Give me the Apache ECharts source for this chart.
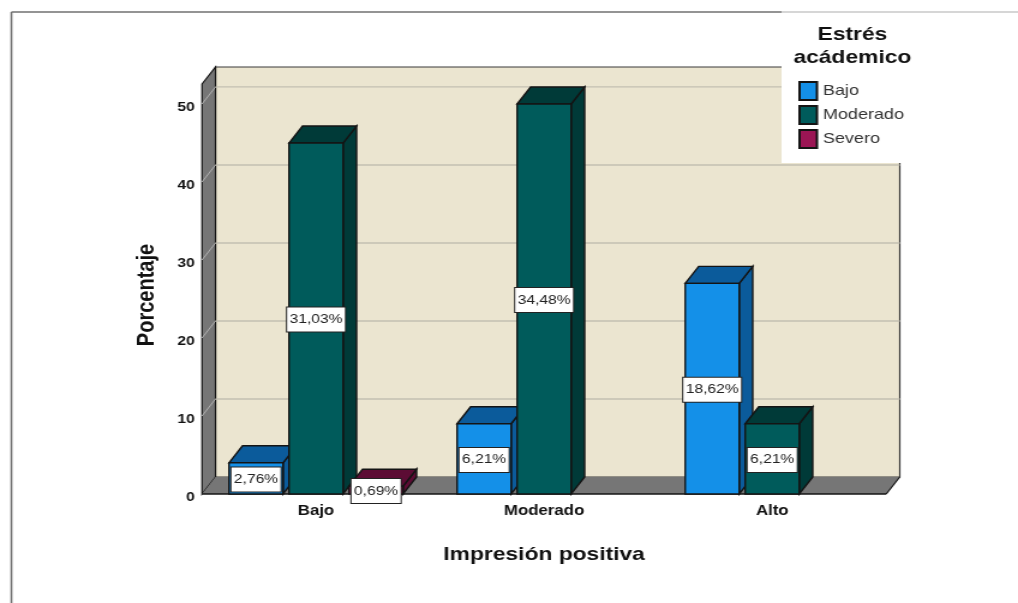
<!DOCTYPE html>
<html>
<head>
<meta charset="utf-8">
<style>
  html, body { margin: 0; padding: 0; background: #fff; overflow: hidden; }
  /* The plot is laid out on a narrower canvas and widened to the full page. */
  #chart { width: 848px; height: 603px; transform-origin: 0 0; transform: scaleX(1.2005); }
</style>
<script src="https://cdn.jsdelivr.net/npm/echarts@6/dist/echarts.min.js"></script>
</head>
<body>
<div id="chart"></div>
<script>
const categories = ['Bajo', 'Moderado', 'Alto'];
const seriesNames = ['Bajo', 'Moderado', 'Severo'];
const bajoValues = [2.76, 6.21, 18.62];
const moderadoValues = [31.03, 34.48, 6.21];
const severoValues = [0.69, null, null];
const tickLabels = ['0', '10', '20', '30', '40', '50'];
const sampleSize = 145; // the axis counts cases, the bar labels state the share of this total

const toPercent = count => count * 100 / sampleSize;
const tickStep = toPercent(10);
const tickValues = tickLabels.map(t => toPercent(Number(t)));
const axisTop = toPercent(52.56);

const sans = '"Liberation Sans"';
const palette = [
  { front: '#1490e8', dark: '#0b5b9b' },
  { front: '#005b5b', dark: '#003a38' },
  { front: '#9b1554', dark: '#5c0c34' }
];
const edge = '#141414';
const depthX = 11.25, depthY = 17;
const barWidth = 45, barPitch = 50;

function percentText(v) { return v.toFixed(2).replace('.', ',') + '%'; }

function poly(points, fill, stroke, lineWidth) {
  return { type: 'polygon', shape: { points }, style: { fill, stroke: stroke || 'none', lineWidth: lineWidth || 1 } };
}

function renderWalls(params) {
  const r = params.coordSys;
  const L = r.x, R = r.x + r.width, T = r.y, B = r.y + r.height;
  return { type: 'group', children: [
    poly([[L + depthX, T - depthY], [R + depthX, T - depthY], [R + depthX, B - depthY], [L + depthX, B - depthY]], '#ebe5d0', '#3a3a3a', 1.2),
    poly([[L, T], [L + depthX, T - depthY], [L + depthX, B - depthY], [L, B]], '#767676', edge, 1.2),
    poly([[L, B], [L + depthX, B - depthY], [R + depthX, B - depthY], [R, B]], '#767676', 'none'),
    { type: 'line', shape: { x1: L, y1: B, x2: R, y2: B }, style: { stroke: edge, lineWidth: 1.6 } },
    { type: 'line', shape: { x1: R, y1: B, x2: R + depthX, y2: B - depthY }, style: { stroke: edge, lineWidth: 1.2 } }
  ] };
}

function renderGridline(params, api) {
  const r = params.coordSys;
  const y = api.coord([0, api.value(0)])[1];
  if (api.value(0) === 0) return null;
  const L = r.x, R = r.x + r.width;
  return { type: 'group', children: [
    { type: 'line', shape: { x1: L, y1: y, x2: L + depthX, y2: y - depthY }, style: { stroke: '#b0b0b0', lineWidth: 1 } },
    { type: 'line', shape: { x1: L + depthX, y1: y - depthY, x2: R + depthX, y2: y - depthY }, style: { stroke: '#c3bfb2', lineWidth: 1.3 } }
  ] };
}

function barRenderer(seriesIndex) {
  const colors = palette[seriesIndex];
  return function (params, api) {
    const cat = api.value(0), val = api.value(1);
    const base = api.coord([cat, 0]);
    const top = api.coord([cat, val]);
    const x0 = base[0] + (seriesIndex - 1) * barPitch - barWidth / 2;
    const x1 = x0 + barWidth;
    const y0 = base[1], y1 = top[1];
    return { type: 'group', children: [
      poly([[x1, y1], [x1 + depthX, y1 - depthY], [x1 + depthX, y0 - depthY], [x1, y0]], colors.dark, edge, 1.4),
      poly([[x0, y1], [x0 + depthX, y1 - depthY], [x1 + depthX, y1 - depthY], [x1, y1]], colors.dark, edge, 1.4),
      poly([[x0, y1], [x1, y1], [x1, y0], [x0, y0]], colors.front, edge, 1.4),
      { type: 'text', z2: 50, style: {
          text: percentText(val), x: (x0 + x1) / 2, y: (y0 + y1) / 2 + 1, align: 'center', verticalAlign: 'middle',
          font: '13px ' + sans, fill: '#222', backgroundColor: '#fff', borderColor: '#222', borderWidth: 1,
          padding: [6, 2, 5, 2]
      } }
    ] };
  };
}

const valueLists = [bajoValues, moderadoValues, severoValues];
const barSeries = seriesNames.map((name, i) => ({
  type: 'custom', name, z: 3 + i, clip: false,
  itemStyle: { color: palette[i].front, borderColor: edge, borderWidth: 1.2 },
  renderItem: barRenderer(i),
  encode: { x: 0, y: 1 },
  data: valueLists[i].map((v, c) => [c, v]).filter(d => d[1] !== null)
}));

const chart = echarts.init(document.getElementById('chart'), null, { renderer: 'canvas' });
chart.setOption({
  animation: false,
  backgroundColor: '#fff',
  textStyle: { fontFamily: sans },
  grid: { left: 168.25, width: 570, top: 84, height: 410 },
  title: {
    text: 'Estrés\nacádemico', left: 705, top: 18, textAlign: 'center', z: 10,
    textStyle: { fontFamily: sans, fontSize: 19, fontWeight: 'bold', lineHeight: 23, color: '#111' }
  },
  legend: {
    data: seriesNames, orient: 'vertical', left: 665, top: 81, z: 10, padding: 0,
    itemWidth: 14.5, itemHeight: 18, itemGap: 4, icon: 'rect',
    textStyle: { fontFamily: sans, fontSize: 15, color: '#333', padding: [3, 0, 0, 0] }
  },
  xAxis: {
    type: 'category', data: categories,
    name: 'Impresión positiva', nameLocation: 'middle', nameGap: 51,
    nameTextStyle: { fontFamily: sans, fontSize: 19, fontWeight: 'bold', color: '#111' },
    axisLine: { show: false }, axisTick: { show: false },
    axisLabel: { margin: 10, fontFamily: sans, fontSize: 14, fontWeight: 'bold', color: '#111' }
  },
  yAxis: {
    type: 'value', min: 0, max: axisTop, interval: tickStep,
    name: 'Porcentaje', nameLocation: 'middle', nameGap: 36, nameRotate: 90,
    nameTextStyle: { fontFamily: sans, fontSize: 20, fontWeight: 'bold', color: '#111', padding: [0, 12, 0, 0] },
    axisLine: { show: false }, axisTick: { show: false }, splitLine: { show: false },
    axisLabel: {
      margin: 6, fontFamily: sans, fontSize: 13, fontWeight: 'bold', color: '#111',
      verticalAlign: 'top', lineHeight: 7,
      formatter: (v, i) => tickLabels[i] === undefined ? '' : tickLabels[i]
    }
  },
  graphic: [
    { type: 'line', z: 1, shape: { x1: 9.5, y1: 12, x2: 9.5, y2: 603 }, style: { stroke: '#707070', lineWidth: 1.6 } },
    { type: 'line', z: 1, shape: { x1: 9.5, y1: 12, x2: 651, y2: 12 }, style: { stroke: '#707070', lineWidth: 1.6 } },
    { type: 'line', z: 1, shape: { x1: 651, y1: 12, x2: 848, y2: 12 }, style: { stroke: '#c8c8c8', lineWidth: 1.6 } },
    { type: 'rect', z: 6, shape: { x: 651, y: 13, width: 197, height: 150 }, style: { fill: '#fff' } }
  ],
  series: [
    { type: 'custom', z: 1, clip: false, renderItem: renderWalls, data: [[0]], encode: { x: 0 } },
    { type: 'custom', z: 2, clip: false, renderItem: renderGridline, data: tickValues.map(v => [v]), encode: { y: 0 } },
    ...barSeries
  ]
});
</script>
</body>
</html>
